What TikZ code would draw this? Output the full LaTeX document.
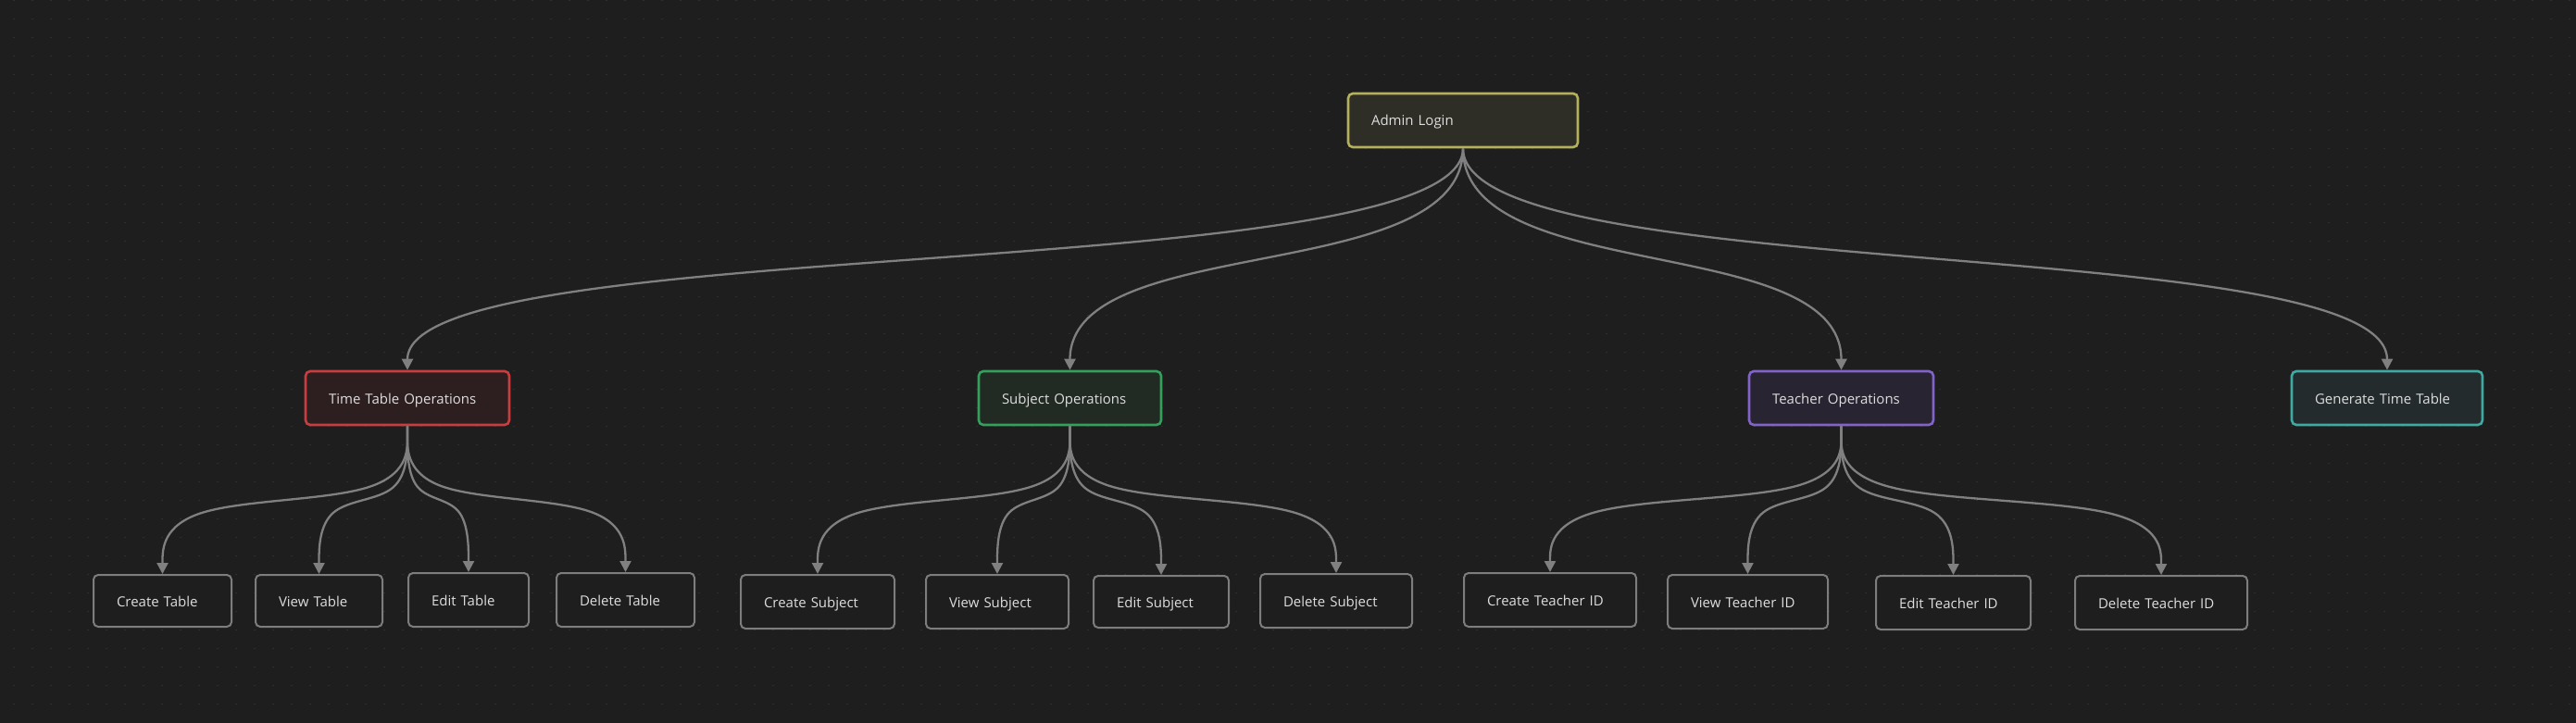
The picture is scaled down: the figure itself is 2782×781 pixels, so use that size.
\documentclass[tikz,border=0pt]{standalone}
\usepackage{fontspec}
\setmainfont{Open Sans}
\usetikzlibrary{arrows.meta,calc}
\definecolor{bg}{RGB}{30,30,30}
\definecolor{dotc}{RGB}{46,46,46}
\definecolor{txt}{RGB}{222,222,222}
\definecolor{edgec}{RGB}{128,128,128}
\definecolor{ylwD}{RGB}{181,176,92}\definecolor{ylwF}{RGB}{46,45,38}
\definecolor{redD}{RGB}{200,62,64}\definecolor{redF}{RGB}{45,30,32}
\definecolor{grnD}{RGB}{52,160,92}\definecolor{grnF}{RGB}{34,42,36}
\definecolor{purD}{RGB}{130,100,200}\definecolor{purF}{RGB}{40,36,50}
\definecolor{tealD}{RGB}{62,170,162}\definecolor{tealF}{RGB}{35,43,45}
\definecolor{gryD}{RGB}{125,125,125}
\newcommand\bedge[2]{\draw[edge] let \p1=(#1.south), \p2=(#2.north), \n1={(\y2-\y1)/2} in
  (\p1) -- (\x1,{\y1+(\n1)/6})
  .. controls (\x1,{\y1+(\n1)/3}) and (\x1,{\y1+2*(\n1)/3}) .. ({(5*\x1+\x2)/6},{\y1+5*(\n1)/6})
  .. controls ({(2*\x1+\x2)/3},{\y1+(\n1)}) and ({(\x1+2*\x2)/3},{\y1+(\n1)}) .. ({(\x1+5*\x2)/6},{\y2-5*(\n1)/6})
  .. controls (\x2,{\y2-2*(\n1)/3}) and (\x2,{\y2-(\n1)/3}) .. (\x2,{\y2-(\n1)/6}) -- (\p2);}
\newcommand\tedge[2]{\draw[edge] (#1.south) .. controls ($(#1.south)+(0,150)$) and ($(#2.north)+(0,-150)$) .. (#2.north);}
\begin{document}
\begin{tikzpicture}[x=1pt,y=-1pt,
  box/.style={rounded corners=5pt, line width=2.6pt, inner xsep=25pt, inner ysep=0pt,
    align=left, text=txt, font=\fontsize{15}{18}\selectfont, minimum height=58pt, anchor=center,
    text height=13.5pt, text depth=1.5pt},
  sub/.style={box, draw=gryD, fill=bg, line width=2pt, minimum height=56pt},
  edge/.style={draw=edgec, line width=2.3pt, -{Triangle[length=12pt,width=12pt]}}]
\useasboundingbox (0,0) rectangle (2782,781);
\fill[bg] (0,0) rectangle (2782,781);
\foreach \i in {0,...,138} {\foreach \j in {0,...,38} {\fill[dotc] ({14.4+20*\i},{0.1+20*\j}) rectangle ++(1.3,1.3);}}
% top
\node[box, draw=ylwD, fill=ylwF, text width=198pt] (admin) at (1580,130) {Admin Login};
% middle
\node[box, draw=redD, fill=redF, text width=170pt] (tto) at (440,430) {Time Table Operations};
\node[box, draw=grnD, fill=grnF, text width=147pt] (so) at (1155.5,430) {Subject Operations};
\node[box, draw=purD, fill=purF, text width=149pt] (teo) at (1988.5,430) {Teacher Operations};
\node[box, draw=tealD, fill=tealF, text width=156pt] (gtt) at (2578,430) {Generate Time Table};
% bottom
\node[sub, text width=99pt] (ct) at (175.5,649) {Create Table};
\node[sub, text width=87pt] (vt) at (344.5,649) {View Table};
\node[sub, text width=80pt, minimum height=58pt] (et) at (506,648) {Edit Table};
\node[sub, text width=99pt, minimum height=58pt] (dt) at (675.5,648) {Delete Table};
\node[sub, text width=116pt, minimum height=58pt] (cs) at (883,650) {Create Subject};
\node[sub, text width=104pt, minimum height=58pt] (vs) at (1077,650) {View Subject};
\node[sub, text width=96pt] (es) at (1254,650) {Edit Subject};
\node[sub, text width=114pt, minimum height=58pt] (ds) at (1443,649) {Delete Subject};
\node[sub, text width=136pt, minimum height=58pt] (cti) at (1674,648) {Create Teacher ID};
\node[sub, text width=123pt, minimum height=58pt] (vti) at (1887.5,650) {View Teacher ID};
\node[sub, text width=117pt, minimum height=58pt] (eti) at (2109.5,651) {Edit Teacher ID};
\node[sub, text width=136pt, minimum height=58pt] (dti) at (2334,651) {Delete Teacher ID};
% edges top
\tedge{admin}{tto}
\tedge{admin}{so}
\tedge{admin}{teo}
\tedge{admin}{gtt}
% edges bottom
\bedge{tto}{ct}
\bedge{tto}{vt}
\bedge{tto}{et}
\bedge{tto}{dt}
\bedge{so}{cs}
\bedge{so}{vs}
\bedge{so}{es}
\bedge{so}{ds}
\bedge{teo}{cti}
\bedge{teo}{vti}
\bedge{teo}{eti}
\bedge{teo}{dti}
\end{tikzpicture}
\end{document}
